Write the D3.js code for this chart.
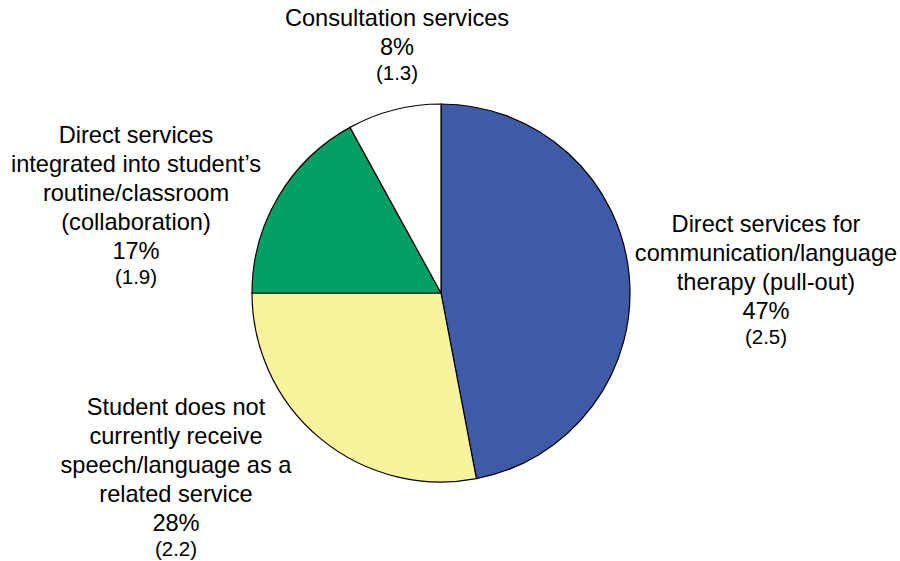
<!DOCTYPE html>
<html><head><meta charset="utf-8">
<script src="https://cdn.jsdelivr.net/npm/d3@7"></script>
<style>body{margin:0;background:#fff}svg{display:block}</style>
</head><body>
<svg id="c" width="900" height="561"></svg>
<script>
const categories = [
  "Direct services for communication/language therapy (pull-out)",
  "Student does not currently receive speech/language as a related service",
  "Direct services integrated into student’s routine/classroom (collaboration)",
  "Consultation services"
];
const percents = [47, 28, 17, 8];
const standardErrors = ["2.5", "2.2", "1.9", "1.3"];
const labelLines = [
  ["Direct services for", "communication/language", "therapy (pull-out)"],
  ["Student does not", "currently receive", "speech/language as a", "related service"],
  ["Direct services", "integrated into student’s", "routine/classroom", "(collaboration)"],
  ["Consultation services"]
];
const colors = ["#3F5AA6", "#FAF39D", "#00A064", "#FFFFFF"];

const svg = d3.select("#c");
const cx = 441, cy = 293, r = 189;
const pie = d3.pie().sort(null).value(d => d)(percents);
const arc = d3.arc().innerRadius(0).outerRadius(r);
const g = svg.append("g").attr("transform", `translate(${cx},${cy})`);
g.selectAll("path").data(pie).join("path")
  .attr("d", arc)
  .attr("fill", (d, i) => colors[i])
  .attr("stroke", "#000").attr("stroke-width", 1.2);

// label anchors: [center x, first line center y]
const anchors = [[766, 224], [176, 407], [136, 135], [397, 18]];
const lh = 29;
labelLines.forEach((lines, i) => {
  const [x, y0] = anchors[i];
  const t = svg.append("g").attr("font-family", "Liberation Sans, Arial, sans-serif").attr("fill", "#000").attr("text-anchor", "middle");
  const all = lines.concat([percents[i] + "%"]);
  all.forEach((s, k) => {
    t.append("text").attr("x", x).attr("y", y0 + k * lh).attr("dy", "0.35em")
      .attr("font-size", 23.6).text(s);
  });
  t.append("text").attr("x", x).attr("y", y0 + all.length * lh - 3).attr("dy", "0.35em")
    .attr("font-size", 20.5).text("(" + standardErrors[i] + ")");
});
</script>
</body></html>
